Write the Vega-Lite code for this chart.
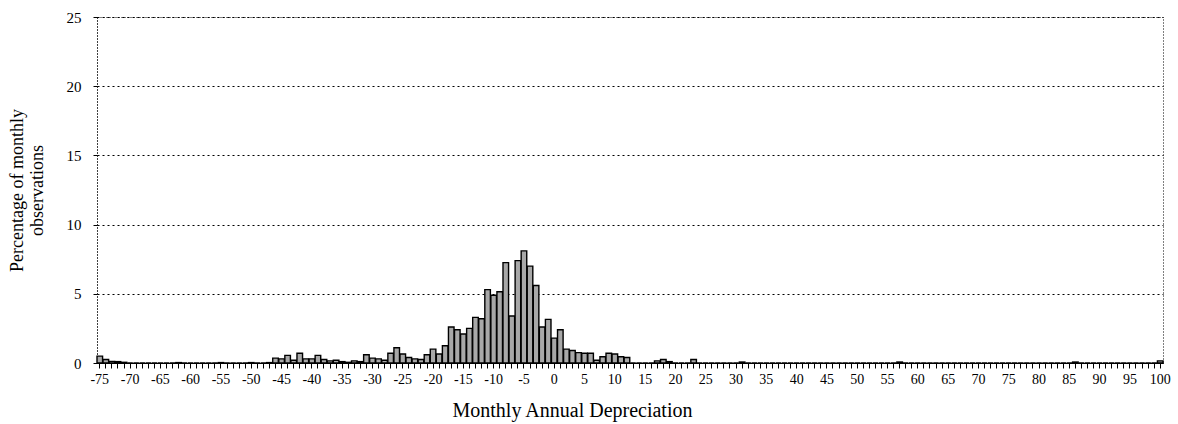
{
  "$schema": "https://vega.github.io/schema/vega-lite/v6.json",
  "autosize": {"type": "none"},
  "padding": {"left": 97, "top": 17, "right": 15, "bottom": 61},
  "width": 1066,
  "height": 346,
  "background": "white",
  "config": {
    "view": {"stroke": "black", "strokeDash": [1, 2], "strokeWidth": 1},
    "font": "Liberation Serif"
  },
  "data": {
    "values": [
      {"dep": -75, "pct": 0.5}, {"dep": -74, "pct": 0.25}, {"dep": -73, "pct": 0.12}, {"dep": -72, "pct": 0.1}, {"dep": -71, "pct": 0.05},
      {"dep": -70, "pct": 0}, {"dep": -69, "pct": 0}, {"dep": -68, "pct": 0}, {"dep": -67, "pct": 0}, {"dep": -66, "pct": 0},
      {"dep": -65, "pct": 0}, {"dep": -64, "pct": 0}, {"dep": -63, "pct": 0}, {"dep": -62, "pct": 0.03}, {"dep": -61, "pct": 0},
      {"dep": -60, "pct": 0}, {"dep": -59, "pct": 0}, {"dep": -58, "pct": 0}, {"dep": -57, "pct": 0}, {"dep": -56, "pct": 0},
      {"dep": -55, "pct": 0.03}, {"dep": -54, "pct": 0}, {"dep": -53, "pct": 0}, {"dep": -52, "pct": 0}, {"dep": -51, "pct": 0},
      {"dep": -50, "pct": 0.03}, {"dep": -49, "pct": 0}, {"dep": -48, "pct": 0}, {"dep": -47, "pct": 0.03}, {"dep": -46, "pct": 0.35},
      {"dep": -45, "pct": 0.3}, {"dep": -44, "pct": 0.55}, {"dep": -43, "pct": 0.2}, {"dep": -42, "pct": 0.7}, {"dep": -41, "pct": 0.3},
      {"dep": -40, "pct": 0.3}, {"dep": -39, "pct": 0.55}, {"dep": -38, "pct": 0.25}, {"dep": -37, "pct": 0.15}, {"dep": -36, "pct": 0.2},
      {"dep": -35, "pct": 0.1}, {"dep": -34, "pct": 0.05}, {"dep": -33, "pct": 0.15}, {"dep": -32, "pct": 0.1}, {"dep": -31, "pct": 0.6},
      {"dep": -30, "pct": 0.35}, {"dep": -29, "pct": 0.3}, {"dep": -28, "pct": 0.2}, {"dep": -27, "pct": 0.7}, {"dep": -26, "pct": 1.1},
      {"dep": -25, "pct": 0.65}, {"dep": -24, "pct": 0.4}, {"dep": -23, "pct": 0.3}, {"dep": -22, "pct": 0.25}, {"dep": -21, "pct": 0.6},
      {"dep": -20, "pct": 1.0}, {"dep": -19, "pct": 0.65}, {"dep": -18, "pct": 1.25}, {"dep": -17, "pct": 2.6}, {"dep": -16, "pct": 2.4},
      {"dep": -15, "pct": 2.1}, {"dep": -14, "pct": 2.5}, {"dep": -13, "pct": 3.3}, {"dep": -12, "pct": 3.2}, {"dep": -11, "pct": 5.3},
      {"dep": -10, "pct": 4.9}, {"dep": -9, "pct": 5.15}, {"dep": -8, "pct": 7.25}, {"dep": -7, "pct": 3.4}, {"dep": -6, "pct": 7.4},
      {"dep": -5, "pct": 8.1}, {"dep": -4, "pct": 7.0}, {"dep": -3, "pct": 5.6}, {"dep": -2, "pct": 2.6}, {"dep": -1, "pct": 3.15},
      {"dep": 0, "pct": 1.8}, {"dep": 1, "pct": 2.4}, {"dep": 2, "pct": 1.0}, {"dep": 3, "pct": 0.9}, {"dep": 4, "pct": 0.75},
      {"dep": 5, "pct": 0.7}, {"dep": 6, "pct": 0.7}, {"dep": 7, "pct": 0.2}, {"dep": 8, "pct": 0.45}, {"dep": 9, "pct": 0.7},
      {"dep": 10, "pct": 0.65}, {"dep": 11, "pct": 0.45}, {"dep": 12, "pct": 0.4}, {"dep": 13, "pct": 0}, {"dep": 14, "pct": 0},
      {"dep": 15, "pct": 0}, {"dep": 16, "pct": 0}, {"dep": 17, "pct": 0.15}, {"dep": 18, "pct": 0.25}, {"dep": 19, "pct": 0.1},
      {"dep": 20, "pct": 0}, {"dep": 21, "pct": 0}, {"dep": 22, "pct": 0}, {"dep": 23, "pct": 0.25}, {"dep": 24, "pct": 0},
      {"dep": 25, "pct": 0}, {"dep": 26, "pct": 0}, {"dep": 27, "pct": 0}, {"dep": 28, "pct": 0}, {"dep": 29, "pct": 0},
      {"dep": 30, "pct": 0}, {"dep": 31, "pct": 0.07}, {"dep": 32, "pct": 0}, {"dep": 33, "pct": 0}, {"dep": 34, "pct": 0},
      {"dep": 35, "pct": 0}, {"dep": 36, "pct": 0}, {"dep": 37, "pct": 0}, {"dep": 38, "pct": 0}, {"dep": 39, "pct": 0},
      {"dep": 40, "pct": 0}, {"dep": 41, "pct": 0}, {"dep": 42, "pct": 0}, {"dep": 43, "pct": 0}, {"dep": 44, "pct": 0},
      {"dep": 45, "pct": 0}, {"dep": 46, "pct": 0}, {"dep": 47, "pct": 0}, {"dep": 48, "pct": 0}, {"dep": 49, "pct": 0},
      {"dep": 50, "pct": 0}, {"dep": 51, "pct": 0}, {"dep": 52, "pct": 0}, {"dep": 53, "pct": 0}, {"dep": 54, "pct": 0},
      {"dep": 55, "pct": 0}, {"dep": 56, "pct": 0}, {"dep": 57, "pct": 0.07}, {"dep": 58, "pct": 0}, {"dep": 59, "pct": 0},
      {"dep": 60, "pct": 0}, {"dep": 61, "pct": 0}, {"dep": 62, "pct": 0}, {"dep": 63, "pct": 0}, {"dep": 64, "pct": 0},
      {"dep": 65, "pct": 0}, {"dep": 66, "pct": 0}, {"dep": 67, "pct": 0}, {"dep": 68, "pct": 0}, {"dep": 69, "pct": 0},
      {"dep": 70, "pct": 0}, {"dep": 71, "pct": 0}, {"dep": 72, "pct": 0}, {"dep": 73, "pct": 0}, {"dep": 74, "pct": 0},
      {"dep": 75, "pct": 0}, {"dep": 76, "pct": 0}, {"dep": 77, "pct": 0}, {"dep": 78, "pct": 0}, {"dep": 79, "pct": 0},
      {"dep": 80, "pct": 0}, {"dep": 81, "pct": 0}, {"dep": 82, "pct": 0}, {"dep": 83, "pct": 0}, {"dep": 84, "pct": 0},
      {"dep": 85, "pct": 0}, {"dep": 86, "pct": 0.07}, {"dep": 87, "pct": 0}, {"dep": 88, "pct": 0}, {"dep": 89, "pct": 0},
      {"dep": 90, "pct": 0}, {"dep": 91, "pct": 0}, {"dep": 92, "pct": 0}, {"dep": 93, "pct": 0}, {"dep": 94, "pct": 0},
      {"dep": 95, "pct": 0}, {"dep": 96, "pct": 0}, {"dep": 97, "pct": 0}, {"dep": 98, "pct": 0}, {"dep": 99, "pct": 0},
      {"dep": 100, "pct": 0.15}
    ]
  },
  "mark": {"type": "bar", "fill": "#a8a8a8", "stroke": "black", "strokeWidth": 1.4},
  "encoding": {
    "x": {
      "field": "dep",
      "type": "ordinal",
      "sort": null,
      "scale": {"paddingInner": 0.08, "paddingOuter": 0},
      "axis": {
        "title": "Monthly Annual Depreciation",
        "titleFont": "Liberation Serif",
        "titleFontSize": 20,
        "titleFontWeight": "normal",
        "titleColor": "black",
        "titleX": 475,
        "titleY": 47,
        "titleBaseline": "middle",
        "labelAngle": 0,
        "labelExpr": "datum.value % 5 === 0 ? datum.value : ''",
        "labelOverlap": false,
        "labelFlush": false,
        "labelFont": "Liberation Serif",
        "labelFontSize": 14,
        "labelColor": "black",
        "labelPadding": 4,
        "tickSize": 5,
        "tickColor": "black",
        "domainColor": "black",
        "domainWidth": 1.2,
        "grid": false
      }
    },
    "y": {
      "field": "pct",
      "type": "quantitative",
      "scale": {"domain": [0, 25], "nice": false},
      "axis": {
        "title": ["Percentage of monthly", "observations"],
        "titleFont": "Liberation Serif",
        "titleFontSize": 18,
        "titleFontWeight": "normal",
        "titleColor": "black",
        "titlePadding": 20,
        "values": [0, 5, 10, 15, 20, 25],
        "labelFont": "Liberation Serif",
        "labelFontSize": 15,
        "labelColor": "black",
        "labelPadding": 12,
        "tickSize": 4,
        "tickColor": "black",
        "domainColor": "black",
        "domainDash": [1, 2],
        "grid": true,
        "gridColor": "black",
        "gridDash": [2, 3],
        "gridWidth": 1
      }
    }
  }
}
